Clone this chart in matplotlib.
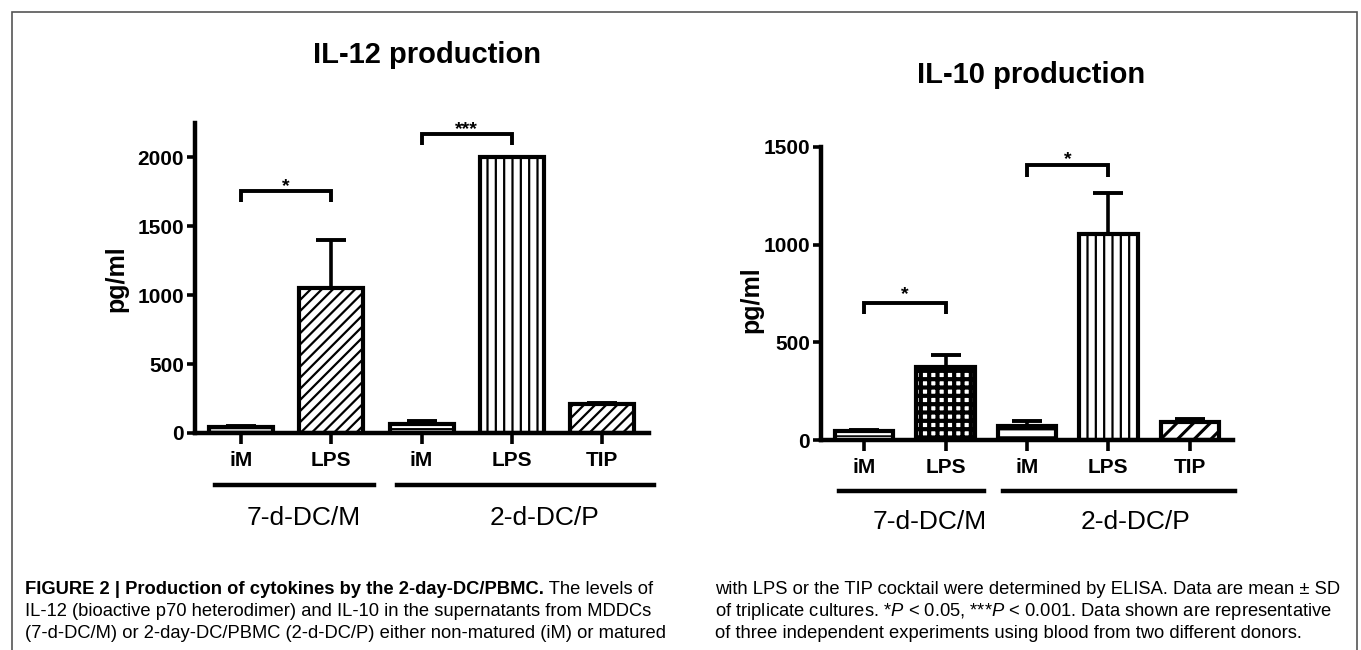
import matplotlib
matplotlib.use('Agg')
import matplotlib.pyplot as plt
import matplotlib.transforms as mtransforms
from matplotlib.patches import Rectangle
import numpy as np

# ---------------- data ----------------
categories = ['iM', 'LPS', 'iM', 'LPS', 'TIP']
groups = ['7-d-DC/M', '2-d-DC/P']
group_members = [[0, 1], [2, 3, 4]]

il12_mean = [40, 1050, 65, 2000, 210]
il12_sd = [8, 350, 25, 5, 10]
il10_mean = [45, 375, 70, 1055, 90]
il10_sd = [5, 60, 25, 210, 15]

il12_ticks = [0, 500, 1000, 1500, 2000]
il10_ticks = [0, 500, 1000, 1500]

# significance brackets: (bar i, bar j, leg bottom, bracket top, label)
il12_sig = [(0, 1, 1673, 1753, '*'), (2, 3, 2087, 2167, '***')]
il10_sig = [(0, 1, 645, 701, '*'), (2, 3, 1347, 1408, '*')]

titles = ['IL-12 production', 'IL-10 production']
ylabel = 'pg/ml'

caption_left = [
    ('FIGURE 2 | Production of cytokines by the 2-day-DC/PBMC.', ' The levels of'),
    ('', 'IL-12 (bioactive p70 heterodimer) and IL-10 in the supernatants from MDDCs'),
    ('', '(7-d-DC/M) or 2-day-DC/PBMC (2-d-DC/P) either non-matured (iM) or matured'),
]
caption_right = [
    'with LPS or the TIP cocktail were determined by ELISA. Data are mean \u00b1 SD',
    'of triplicate cultures. *$P$ < 0.05, ***$P$ < 0.001. Data shown are representative',
    'of three independent experiments using blood from two different donors.',
]

# ---------------- style ----------------
plt.rcParams['font.family'] = ['Liberation Sans', 'DejaVu Sans']
plt.rcParams['mathtext.fontset'] = 'custom'
plt.rcParams['mathtext.it'] = 'Liberation Sans:italic'
plt.rcParams['hatch.linewidth'] = 1.6

W, H = 1361, 650
fig = plt.figure(figsize=(W / 100, H / 100), dpi=100)


def px_axes(x0, x1, ytop, ybot):
    return [x0 / W, 1 - ybot / H, (x1 - x0) / W, (ybot - ytop) / H]


ax1 = fig.add_axes(px_axes(195, 649, 123, 433))
ax2 = fig.add_axes(px_axes(821, 1233, 147, 440))

charts = [
    dict(ax=ax1, mean=il12_mean, sd=il12_sd, ticks=il12_ticks, sig=il12_sig,
         ylim=(0, 2250), xlim=(-0.51, 4.52), width=0.71,
         hatches=['-----', '///', '--', '||', '///'],
         hlw=[1.2, 1.6, 1.6, 1.6, 1.6],
         star_off=[0, 0],
         glines=[(-0.29, 1.47), (1.73, 4.57)], gline_y=-0.168,
         glabel_x=[0.69, 3.36], glabel_y=-0.274),
    dict(ax=ax2, mean=il10_mean, sd=il10_sd, ticks=il10_ticks, sig=il10_sig,
         ylim=(0, 1500), xlim=(-0.53, 4.53), width=0.72,
         hatches=['---', '++', '--', '||', '//'],
         hlw=[1.2, 3.0, 1.8, 1.6, 2.2],
         star_off=[3, 1],
         glines=[(-0.31, 1.47), (1.71, 4.56)], gline_y=-0.174,
         glabel_x=[0.81, 3.33], glabel_y=-0.28),
]

for c in charts:
    ax = c['ax']
    x = np.arange(len(categories))
    for i in range(len(categories)):
        with plt.rc_context({'hatch.linewidth': c['hlw'][i]}):
            bars = ax.bar(x[i], c['mean'][i], width=c['width'], facecolor='white',
                          edgecolor='black', linewidth=3, hatch=c['hatches'][i], zorder=2)
        for b in bars:
            if hasattr(b, 'set_hatch_linewidth'):
                b.set_hatch_linewidth(c['hlw'][i])
    ax.errorbar(x, c['mean'], yerr=[np.zeros(len(x)), c['sd']], fmt='none',
                ecolor='black', elinewidth=2.6, capsize=11, capthick=2.8, zorder=3)
    ax.set_xlim(*c['xlim'])
    ax.set_ylim(*c['ylim'])
    for s in ['top', 'right']:
        ax.spines[s].set_visible(False)
    for s in ['left', 'bottom']:
        ax.spines[s].set_linewidth(3.2)
    ax.set_xticks(x)
    ax.set_xticklabels(categories, fontsize=15, fontweight='bold')
    ax.set_yticks(c['ticks'])
    ax.set_yticklabels([str(t) for t in c['ticks']], fontsize=15, fontweight='bold')
    ax.tick_params(axis='y', width=2.6, length=6, pad=2)
    ax.tick_params(axis='x', width=2.6, length=8, pad=5)

    # significance brackets
    for k, (i, j, yl, yt, lab) in enumerate(c['sig']):
        ax.plot([i, i, j, j], [yl, yt, yt, yl], color='black', lw=2.8,
                solid_capstyle='butt', solid_joinstyle='miter', clip_on=False, zorder=4)
        ax.annotate(lab, xy=((i + j) / 2, yt), xytext=(0, c['star_off'][k]),
                    textcoords='offset points', ha='center', va='baseline',
                    fontsize=14, fontweight='bold', annotation_clip=False)

    # group lines and labels
    trans = mtransforms.blended_transform_factory(ax.transData, ax.transAxes)
    for g, (x0, x1) in enumerate(c['glines']):
        ax.plot([x0, x1], [c['gline_y']] * 2, color='black', lw=3.2,
                transform=trans, clip_on=False)
        ax.text(c['glabel_x'][g], c['glabel_y'], groups[g], transform=trans,
                ha='center', va='center', fontsize=19)

# titles and y labels
fig.text(427 / W, 1 - 55 / H, titles[0], ha='center', va='center',
         fontsize=21, fontweight='bold')
fig.text(1031 / W, 1 - 75 / H, titles[1], ha='center', va='center',
         fontsize=21, fontweight='bold')
fig.text(116 / W, 1 - 279 / H, ylabel, ha='center', va='center', rotation=90,
         fontsize=18, fontweight='bold')
fig.text(751 / W, 1 - 300 / H, ylabel, ha='center', va='center', rotation=90,
         fontsize=18, fontweight='bold')

# frame
fig.patches.append(Rectangle((12 / W, -0.02), (1357 - 12) / W, (H - 12) / H + 0.02,
                             transform=fig.transFigure, fill=False,
                             edgecolor='#555555', lw=1.2))

# caption
cap_fs = 13.2
line_y = [589, 611, 633]
fig.canvas.draw()
renderer = fig.canvas.get_renderer()
for k, (bold, normal) in enumerate(caption_left):
    xx = 25 / W
    yy = 1 - line_y[k] / H
    if bold:
        t = fig.text(xx, yy, bold, ha='left', va='center', fontsize=cap_fs,
                     fontweight='bold')
        bb = t.get_window_extent(renderer)
        xx = bb.x1 / W
    fig.text(xx, yy, normal, ha='left', va='center', fontsize=cap_fs)
for k, line in enumerate(caption_right):
    fig.text(715 / W, 1 - line_y[k] / H, line, ha='left', va='center', fontsize=cap_fs)

fig.savefig('out.png', dpi=100)
